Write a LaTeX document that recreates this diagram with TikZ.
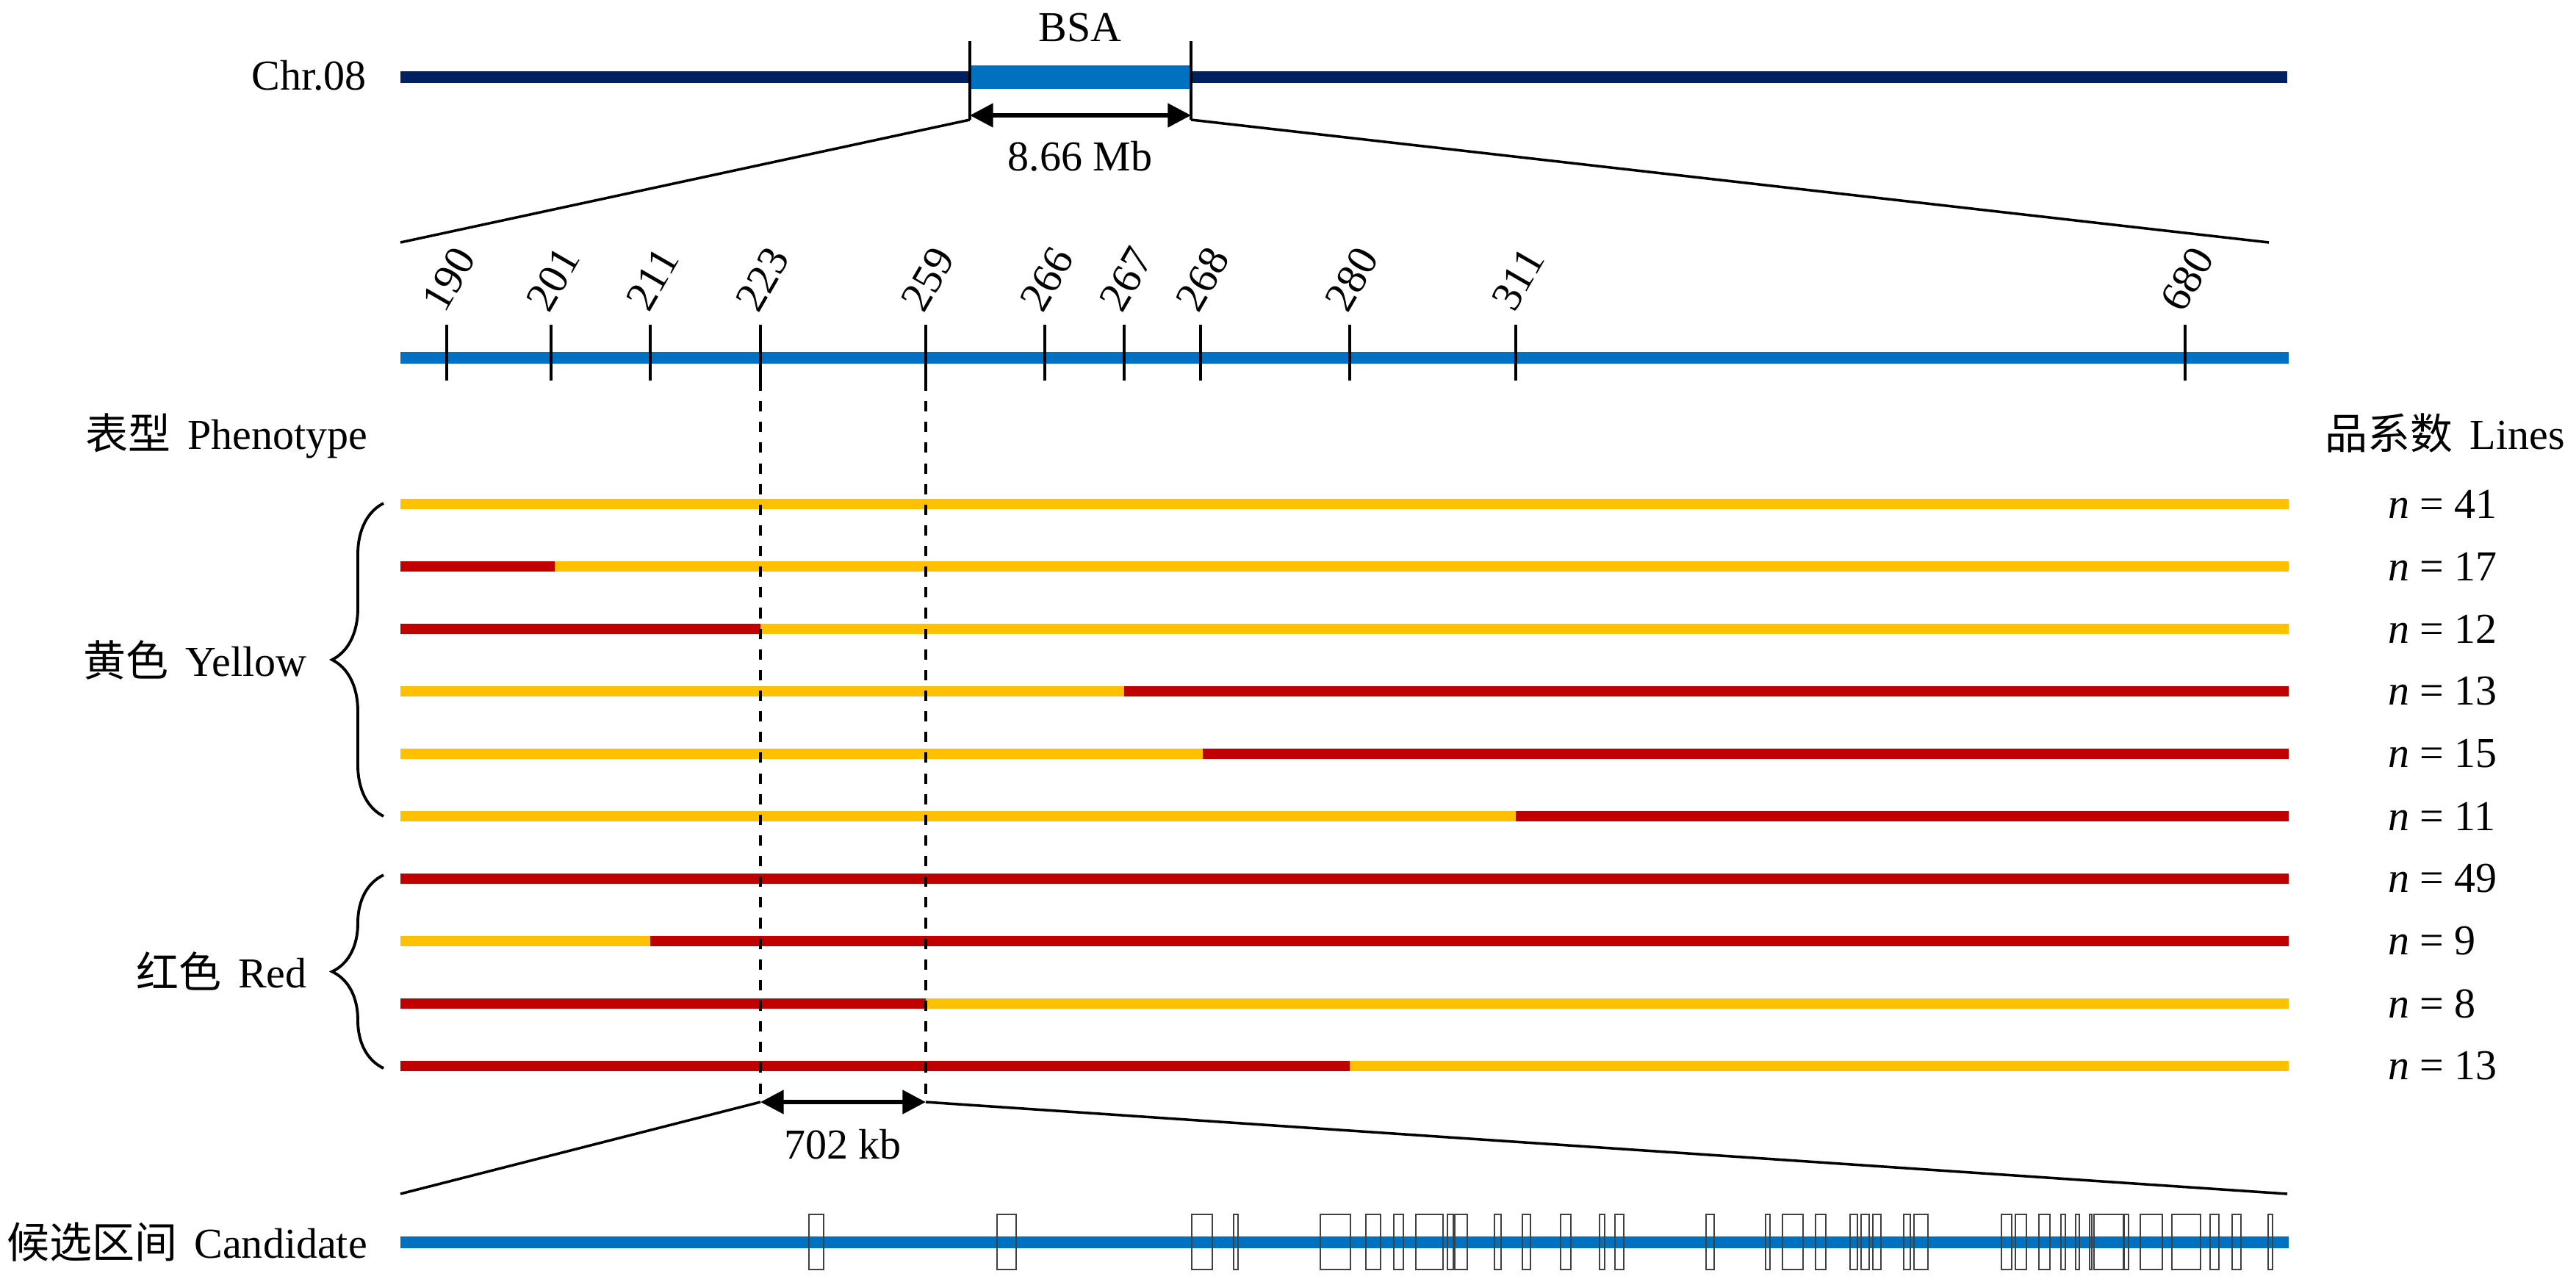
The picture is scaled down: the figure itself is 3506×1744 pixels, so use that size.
\documentclass[tikz,border=0pt]{standalone}
\usepackage{fontspec}
\setmainfont{Liberation Serif}
\newfontfamily\cjk{Noto Sans CJK SC}
\usetikzlibrary{arrows.meta,decorations.pathreplacing,positioning}
\definecolor{chrnavy}{HTML}{002060}
\definecolor{mapblue}{HTML}{0070C0}
\definecolor{yel}{HTML}{FFC000}
\definecolor{redc}{HTML}{C00000}
\tikzstyle{chrom} = [line width=4.5pt]
\tikzstyle{geno} = [line width=4.2pt]
\tikzstyle{mtick} = [line width=1.3pt]
\tikzstyle{txt} = [inner sep=1pt]
\tikzstyle{zoomline} = [line width=1pt]
\tikzstyle{span} = [line width=1.7pt, <->]
\tikzstyle{vdash} = [line width=1.1pt, dash pattern=on 4pt off 4pt]
\tikzstyle{gene} = [draw=black!75, line width=0.5pt]
\tikzstyle{brc} = [decorate, decoration={brace, amplitude=0.7cm}, line width=1.1pt]

\begin{document}
\begin{tikzpicture}[x=0.01cm, y=-0.01cm, font=\fontsize{16.5}{20}\selectfont, >={Triangle[length=9pt,width=9pt]}]
   \useasboundingbox (0,0) rectangle (3506,1744);
   % chromosome
   \draw[chrom, chrnavy] (545,105) -- (3113,105);
   \fill[mapblue] (1320,89) rectangle (1621,121);
   \node[txt, anchor=east] (chr) at (503,103) {Chr.08};
   \node[txt] (bsa) at (1470,38) {BSA};
   \node[txt] (mb) at (1470,213) {8.66 Mb};
   \coordinate (btl) at (1320,56);
   \coordinate (btr) at (1621,56);
   \coordinate (bl) at (1320,163);
   \coordinate (br) at (1621,163);
   \coordinate (al) at (1320,157);
   \coordinate (ar) at (1621,157);
   \coordinate (ml) at (545,330);
   \coordinate (mr) at (3088,330);

   % markers
   \draw[chrom, mapblue] (545,487) -- (3115,487);
   \foreach \x/\lab in {608/190, 750/201, 885/211, 1035/223, 1260/259, 1422/266,
                        1530/267, 1634/268, 1837/280, 2063/311, 2974/680} {
      \draw[mtick] (\x,442) -- (\x,518);
      \coordinate (t\lab) at (\x,518);
      \node[txt, rotate=60] (m\lab) at (\x+3,380) {\lab};
   }

   % headers
   \node[txt, anchor=base west] (pheno) at (112,611) {{\cjk 表型}\hspace{0.4em}Phenotype};
   \node[txt, anchor=base east] (lines) at (3495,611) {{\cjk 品系数}\hspace{0.4em}Lines};

   % lines
   \foreach \y/\a/\b/\c/\n [count=\i] in {686/yel/3115/yel/41, 771/redc/755/yel/17,
        856/redc/1035/yel/12, 941/yel/1530/redc/13, 1026/yel/1637/redc/15,
        1111/yel/2063/redc/11, 1196/redc/3115/redc/49, 1281/yel/885/redc/9,
        1366/redc/1260/yel/8, 1451/redc/1837/yel/13} {
      \draw[geno, \c] (\b,\y) -- (3115,\y);
      \draw[geno, \a] (545,\y) -- (\b,\y);
      \node[txt, anchor=west] (n\i) at (3246,\y) {\textit{n} = \n};
   }

   % braces
   \coordinate (ytop) at (522,685);
   \coordinate (ybot) at (522,1111);
   \coordinate (ytip) at (452,898);
   \coordinate (rtop) at (522,1191);
   \coordinate (rbot) at (522,1454);
   \coordinate (rtip) at (452,1322);
   \node[txt] (yellow) [left=0.3cm of ytip] {{\cjk 黄色}\hspace{0.4em}Yellow};
   \node[txt] (red) [left=0.3cm of rtip] {{\cjk 红色}\hspace{0.4em}Red};

   % candidate
   \coordinate (d1) at (1035,1500);
   \coordinate (d2) at (1260,1500);
   \coordinate (cl) at (545,1625);
   \coordinate (cr) at (3113,1625);
   \node[txt] (kb) at (1147,1558) {702 kb};
   \draw[chrom, mapblue] (545,1691) -- (3115,1691);
   \node[txt, anchor=base west] (cand) at (5,1712) {{\cjk 候选区间}\hspace{0.4em}Candidate};
   \foreach \a/\b in {1101/1121, 1357/1383, 1622/1650, 1679/1685, 1797/1838, 1859/1879,
        1897/1910, 1927/1964, 1970/1978, 1980/1997, 2034/2043, 2072/2083, 2124/2138,
        2177/2184, 2198/2210, 2322/2333, 2403/2409, 2426/2454, 2471/2485, 2518/2528,
        2533/2544, 2549/2560, 2591/2600, 2605/2624, 2724/2738, 2743/2758, 2775/2790,
        2805/2811, 2825/2830, 2844/2847, 2850/2891, 2890/2897, 2913/2943, 2956/2995,
        3008/3020, 3038/3050, 3087/3093}
      \draw[gene] (\a,1653) rectangle (\b,1728);

   % edges
   \draw[zoomline] (btl) -- (bl);
   \draw[zoomline] (btr) -- (br);
   \draw[span] (al) -- (ar);
   \draw[zoomline] (bl) -- (ml);
   \draw[zoomline] (br) -- (mr);
   \draw[brc] (ybot) -- (ytop);
   \draw[brc] (rbot) -- (rtop);
   \draw[vdash] (t223) -- (d1);
   \draw[vdash] (t259) -- (d2);
   \draw[span] (d1) -- (d2);
   \draw[zoomline] (d1) -- (cl);
   \draw[zoomline] (d2) -- (cr);
\end{tikzpicture}
\end{document}
